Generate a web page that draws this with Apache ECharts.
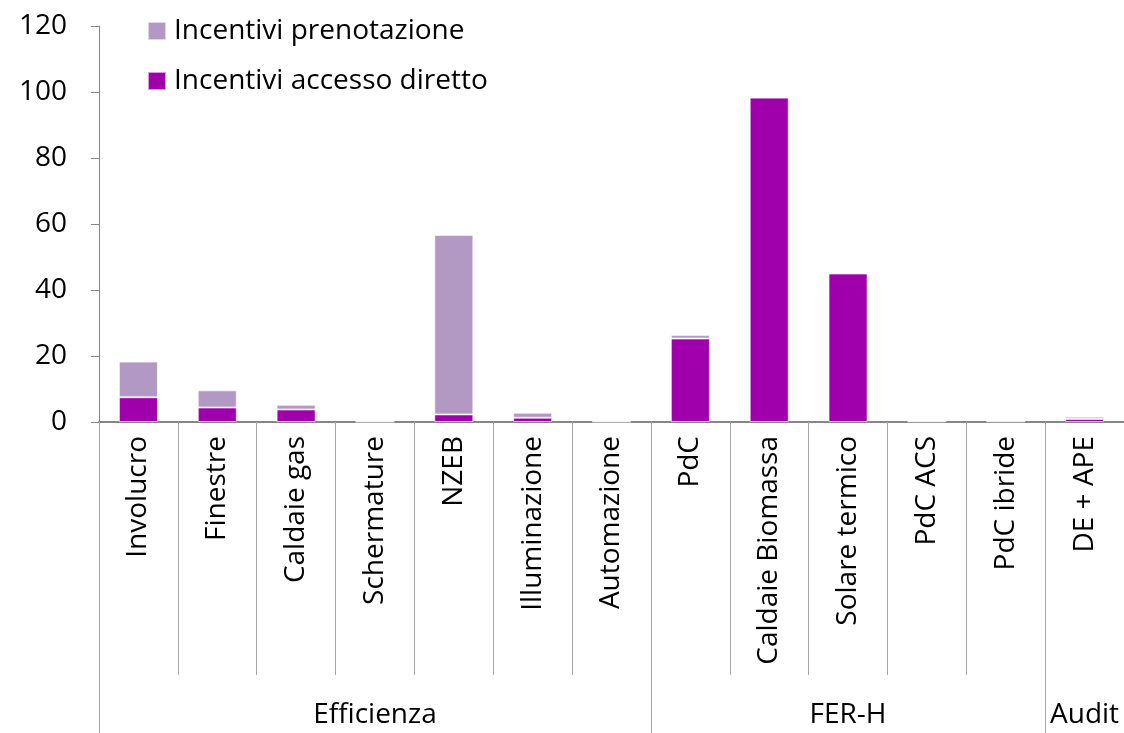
<!DOCTYPE html>
<html>
<head>
<meta charset="utf-8">
<script src="https://cdn.jsdelivr.net/npm/echarts@6/dist/echarts.min.js"></script>
<style>
html,body{margin:0;padding:0;background:#fff;}
#c{width:1124px;height:733px;}
</style>
</head>
<body>
<div id="c"></div>
<script>
var categories = ['Involucro','Finestre','Caldaie gas','Schermature','NZEB','Illuminazione','Automazione','PdC','Caldaie Biomassa','Solare termico','PdC ACS','PdC ibride','DE + APE'];
var accessoDiretto = [7.5, 4.4, 3.8, 0.1, 2.3, 1.3, 0.1, 25.3, 98.3, 45.0, 0.2, 0.2, 0.9];
var prenotazione = [10.8, 5.2, 1.4, 0.2, 54.4, 1.5, 0.3, 1.1, 0, 0, 0.1, 0.2, 0.7];
var groups = [{name:'Efficienza', start:0, end:7}, {name:'FER-H', start:7, end:12}, {name:'Audit', start:12, end:13}];
var yTicks = {min:0, max:120, interval:20};

// group axis: half-category points 0..2N
var N = categories.length;
var halfData = [];
for (var k = 0; k <= 2*N; k++) halfData.push('');
var boundaryIdx = {};
var labelIdx = {};
groups.forEach(function(g){
  boundaryIdx[g.start*2] = true;
  boundaryIdx[g.end*2] = true;
  var c = g.start + g.end;
  halfData[c] = g.name;
  labelIdx[c] = true;
});

var FONT = 'Open Sans';
var FS = 28;
var chart = echarts.init(document.getElementById('c'));
chart.setOption({
  animation:false,
  textStyle:{fontFamily:FONT},
  legend:{
    orient:'vertical', left:147, top:17, padding:0, itemWidth:18, itemHeight:18, itemGap:22,
    icon:'rect',
    data:['Incentivi prenotazione','Incentivi accesso diretto'],
    textStyle:{fontFamily:FONT, fontSize:FS, color:'#000', padding:[0,0,0,3]}
  },
  grid:{left:99, top:26, height:396, width:1027},
  yAxis:{
    type:'value', min:yTicks.min, max:yTicks.max, interval:yTicks.interval,
    axisLine:{show:true, lineStyle:{color:'#868686', width:1}},
    axisTick:{show:true, length:8, lineStyle:{color:'#868686'}},
    splitLine:{show:false},
    axisLabel:{fontFamily:FONT, fontSize:FS, color:'#000', margin:32}
  },
  xAxis:[{
    type:'category', data:categories, gridIndex:0,
    axisLine:{show:true, lineStyle:{color:'#868686', width:2}},
    axisTick:{show:true, interval:0, length:253, lineStyle:{color:'#a6a6a6', width:1}},
    axisLabel:{interval:0, rotate:90, fontFamily:FONT, fontSize:FS, color:'#000', margin:14}
  },{
    type:'category', data:halfData, gridIndex:0, boundaryGap:false, position:'bottom', offset:253,
    axisLine:{show:false},
    axisTick:{show:true, length:60, lineStyle:{color:'#a6a6a6', width:1},
      interval:function(i){ return !!boundaryIdx[i]; }},
    axisLabel:{fontFamily:FONT, fontSize:FS, color:'#000', margin:26,
      interval:function(i){ return !!labelIdx[i]; }}
  }],
  series:[{
    name:'Incentivi accesso diretto', type:'bar', stack:'tot', xAxisIndex:0, data:accessoDiretto,
    barWidth:39, itemStyle:{color:'#9f00ab', borderColor:'rgba(255,255,255,0.6)', borderWidth:1}
  },{
    name:'Incentivi prenotazione', type:'bar', stack:'tot', xAxisIndex:0, data:prenotazione,
    barWidth:39, itemStyle:{color:'#b199c4', borderColor:'rgba(255,255,255,0.6)', borderWidth:1}
  }]
});
</script>
</body>
</html>
